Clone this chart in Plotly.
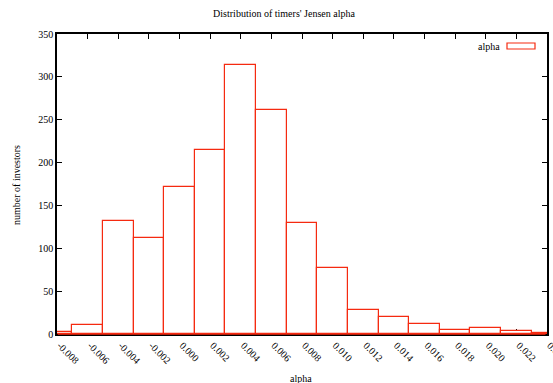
import plotly.graph_objects as go

# bin centres (width 0.002) and counts
bin_centers = [-0.008, -0.006, -0.004, -0.002, 0.000, 0.002, 0.004, 0.006, 0.008,
               0.010, 0.012, 0.014, 0.016, 0.018, 0.020, 0.022, 0.024]
counts = [2, 10, 132, 112, 171, 215, 314, 261, 130, 77, 28, 20, 12, 5, 7, 3, 1]
bin_width = 0.002

x_tick_vals = [-0.008, -0.006, -0.004, -0.002, 0.000, 0.002, 0.004, 0.006, 0.008,
               0.010, 0.012, 0.014, 0.016, 0.018, 0.020, 0.022, 0.024]
x_tick_text = ["-0.008", "-0.006", "-0.004", "-0.002", "0.000", "0.002", "0.004", "0.006",
               "0.008", "0.010", "0.012", "0.014", "0.016", "0.018", "0.020", "0.022", "0.024"]
y_tick_vals = [0, 50, 100, 150, 200, 250, 300, 350]

RED = "#f52a10"
FONT = "Liberation Serif"

fig = go.Figure()
fig.add_trace(go.Bar(
    x=bin_centers, y=counts, width=[bin_width] * len(bin_centers),
    marker=dict(color="white", line=dict(color=RED, width=1.2)),
    name="alpha", showlegend=False,
))

fig.update_layout(
    width=553, height=383,
    margin=dict(l=57, r=6, t=34, b=49),
    paper_bgcolor="white", plot_bgcolor="white",
    font=dict(family=FONT, size=10, color="black"),
    bargap=0,
    title=dict(text="Distribution of timers' Jensen alpha", x=284 / 553, xref="container",
               xanchor="center", y=1 - 13 / 383, yref="container", yanchor="middle",
               font=dict(family=FONT, size=10, color="black")),
)
fig.update_xaxes(
    range=[-0.008, 0.024], tickvals=x_tick_vals, ticktext=x_tick_text, tickangle=45,
    showgrid=False, zeroline=False, showline=True, linecolor="black", linewidth=1.5,
    mirror="allticks", ticks="inside", ticklen=5, tickcolor="black", automargin=False,
    ticklabeloverflow="allow", layer="below traces", ticklabelshift=3,
    tickfont=dict(family=FONT, size=10, color="black"),
)
fig.update_yaxes(
    range=[0, 350], tickvals=y_tick_vals,
    showgrid=False, zeroline=False, showline=True, linecolor="black", linewidth=1.5,
    mirror="allticks", ticks="inside", ticklen=5, tickcolor="black", automargin=False,
    tickfont=dict(family=FONT, size=10, color="black"),
)

# bar baseline drawn over the bottom frame (as in the reference)
fig.add_shape(type="line", xref="paper", yref="paper", x0=0.0015, x1=0.997, y0=0, y1=0,
              line=dict(color=RED, width=1.5), layer="above")

# axis titles
fig.add_annotation(text="alpha", x=(301 - 57) / 490, y=(334 - 378) / 300, xref="paper", yref="paper",
                   xanchor="center", yanchor="middle", showarrow=False,
                   font=dict(family=FONT, size=10, color="black"))
fig.add_annotation(text="number of investors", x=(16 - 57) / 490, y=(334 - 185) / 300,
                   xref="paper", yref="paper", textangle=-90, showarrow=False,
                   xanchor="center", yanchor="middle",
                   font=dict(family=FONT, size=10, color="black"))

# gnuplot-style key
fig.add_annotation(text="alpha", x=(502 - 57) / 490, y=(334 - 46) / 300, xref="paper", yref="paper",
                   xanchor="right", yanchor="middle", showarrow=False,
                   font=dict(family=FONT, size=10, color="black"))
fig.add_shape(type="rect", xref="paper", yref="paper",
              x0=(507 - 57) / 490, x1=(535 - 57) / 490, y0=(334 - 49) / 300, y1=(334 - 43) / 300,
              line=dict(color=RED, width=1.2), fillcolor="white")

fig.write_html("out.html")
